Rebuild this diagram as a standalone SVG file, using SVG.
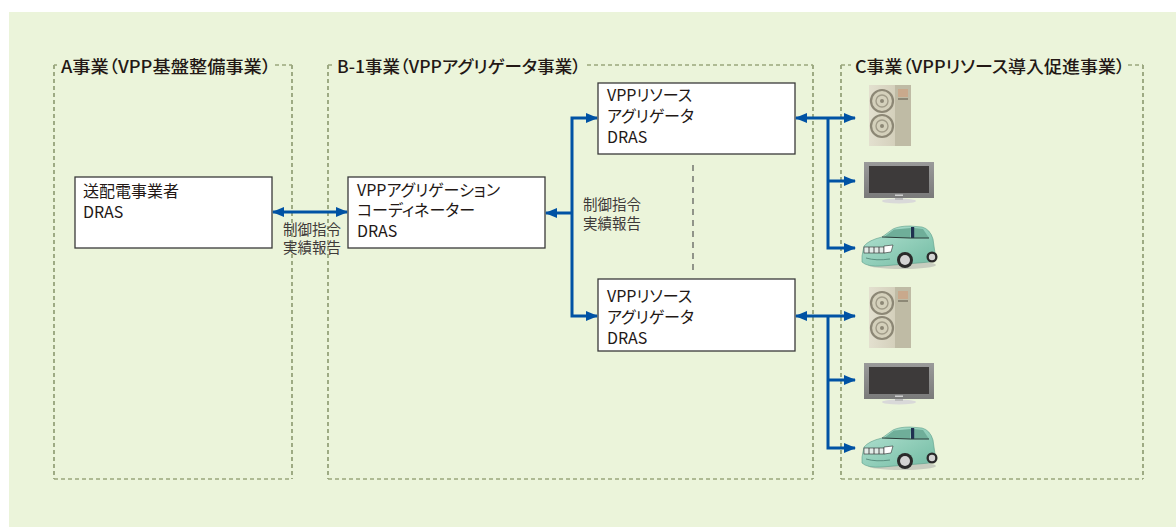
<svg xmlns="http://www.w3.org/2000/svg" width="1176" height="527" viewBox="0 0 1176 527">
  <style>
    .title { font-family: "Noto Sans CJK JP", "Liberation Sans", sans-serif; font-size: 17px; font-weight: 500; fill: #231815; font-feature-settings: "palt"; }
    .label { font-family: "Noto Sans CJK JP", "Liberation Sans", sans-serif; font-size: 16px; fill: #231815; font-feature-settings: "palt"; }
    .small { font-family: "Noto Sans CJK JP", "Liberation Sans", sans-serif; font-size: 14.5px; fill: #3e3a39; }
    .box { fill: #ffffff; stroke: #3a3a3a; stroke-width: 1.3; }
    .zone-v { fill: none; stroke: #6b7a4b; stroke-width: 1.2; stroke-dasharray: 4 3; }
    .zone-h { fill: none; stroke: #9aa77c; stroke-width: 1.5; stroke-dasharray: 4 3; }
    .link { fill: none; stroke: #0052a4; stroke-width: 3; stroke-linejoin: miter; }
    .both { marker-start: url(#head); marker-end: url(#head); }
    .one { marker-end: url(#head); }
  </style>
  <defs>
    <marker id="head" viewBox="0 0 12 10" markerWidth="12" markerHeight="10" markerUnits="userSpaceOnUse" refX="11" refY="5" orient="auto-start-reverse">
      <path d="M0,0 L12,5 L0,10 Z" fill="#0052a4"/>
    </marker>
    <linearGradient id="acBody" x1="0" y1="0" x2="1" y2="0">
      <stop offset="0" stop-color="#e3e0cf"/>
      <stop offset="1" stop-color="#cbc6b0"/>
    </linearGradient>
    <linearGradient id="tvFrame" x1="0" y1="0" x2="0" y2="1">
      <stop offset="0" stop-color="#9a9a9a"/>
      <stop offset="1" stop-color="#7a7a7a"/>
    </linearGradient>
    <linearGradient id="carBody" x1="0" y1="0" x2="1" y2="1">
      <stop offset="0" stop-color="#b4e3d2"/>
      <stop offset="1" stop-color="#72bba3"/>
    </linearGradient>
    <!-- outdoor air-conditioner unit -->
    <symbol id="ac-unit" overflow="visible">
      <rect x="0" y="0" width="42" height="61" fill="url(#acBody)"/>
      <rect x="26" y="0" width="16" height="61" fill="#bfbba5"/>
      <rect x="29" y="4" width="10" height="8" fill="#c9a98c"/>
      <rect x="29" y="13" width="10" height="2" fill="#8d8876"/>
      <circle cx="13" cy="16" r="11" fill="#d4d0bb" stroke="#8c8775" stroke-width="2.2"/>
      <circle cx="13" cy="16" r="6" fill="none" stroke="#a19c89" stroke-width="1.4"/>
      <circle cx="13" cy="16" r="2" fill="#8c8775"/>
      <circle cx="13" cy="41" r="11" fill="#d4d0bb" stroke="#8c8775" stroke-width="2.2"/>
      <circle cx="13" cy="41" r="6" fill="none" stroke="#a19c89" stroke-width="1.4"/>
      <circle cx="13" cy="41" r="2" fill="#8c8775"/>
    </symbol>
    <!-- flat-panel television -->
    <symbol id="tv" overflow="visible">
      <ellipse cx="35" cy="39" rx="17" ry="2.6" fill="#d9d9d9"/>
      <rect x="31" y="35" width="8" height="3" fill="#bdbdbd"/>
      <rect x="0" y="0" width="70" height="36" fill="url(#tvFrame)"/>
      <rect x="5" y="4" width="60" height="27" fill="#3d3a3a"/>
      <rect x="31" y="32.5" width="8" height="1.5" fill="#cfcfcf"/>
    </symbol>
    <!-- electric vehicle -->
    <symbol id="car" overflow="visible">
      <ellipse cx="42" cy="40" rx="34" ry="4" fill="#b9bcb3" opacity="0.7"/>
      <path d="M2,31 L4,21 Q9,15 22,12 L33,4 Q39,1 50,1 L62,2 Q70,4 73,14 L75,28 Q75,35 70,37 L22,41 Q7,42 2,37 Z" fill="url(#carBody)" stroke="#5d9e89" stroke-width="0.6"/>
      <path d="M24,12 L34,4.5 L51,3 L50,13 Z" fill="#6fae99"/>
      <path d="M54,3 L63,4 L69,13 L54,13 Z" fill="#6fae99"/>
      <rect x="51" y="2" width="3.2" height="11" fill="#1f3050"/>
      <path d="M22,12 L50,13 L69,13" fill="none" stroke="#2b3d3a" stroke-width="1"/>
      <rect x="4" y="22" width="20" height="6" fill="#e3ece8" stroke="#2a2a2a" stroke-width="0.6"/>
      <path d="M9,22 V28 M14,22 V28 M19,22 V28" stroke="#2a2a2a" stroke-width="0.8"/>
      <path d="M24,21 L33,20 L31,27 L24,28 Z" fill="#ffffff" stroke="#2a2a2a" stroke-width="0.6"/>
      <path d="M6,33 Q16,36 30,34" fill="none" stroke="#4a7f70" stroke-width="0.8"/>
      <circle cx="45" cy="35" r="8" fill="#2a2a2a"/>
      <circle cx="45" cy="35" r="5" fill="#d3d3d3"/>
      <circle cx="72" cy="32" r="5.5" fill="#2a2a2a"/>
      <circle cx="72" cy="32" r="3.2" fill="#d3d3d3"/>
    </symbol>
  </defs>

  <!-- background panel -->
  <rect x="9" y="12" width="1167" height="515" fill="#ebf4da"/>

  <!-- project zones -->
  <g id="zone-a">
    <path class="zone-v" d="M54,65 V479 M292,65 V479"/>
    <path class="zone-h" d="M54,65 H57 M275,65 H292 M54,479 H292"/>
    <text class="title" x="61" y="73" textLength="210" lengthAdjust="spacingAndGlyphs">A事業（VPP基盤整備事業）</text>
  </g>
  <g id="zone-b">
    <path class="zone-v" d="M328,65 V479 M813,65 V479"/>
    <path class="zone-h" d="M328,65 H333 M587,65 H813 M328,479 H813"/>
    <text class="title" x="337" y="73" textLength="244" lengthAdjust="spacingAndGlyphs">B-1事業（VPPアグリゲータ事業）</text>
  </g>
  <g id="zone-c">
    <path class="zone-v" d="M841,65 V479 M1143,65 V479"/>
    <path class="zone-h" d="M841,65 H851 M1128,65 H1143 M841,479 H1143"/>
    <text class="title" x="855" y="73" textLength="270" lengthAdjust="spacingAndGlyphs">C事業（VPPリソース導入促進事業）</text>
  </g>

  <!-- dashed separator between the two resource aggregators -->
  <path d="M693,165 V270" fill="none" stroke="#555555" stroke-width="1.2" stroke-dasharray="6 5"/>

  <!-- nodes -->
  <g id="node-tso">
    <rect class="box" x="75" y="177" width="197" height="71"/>
    <text class="label" x="83" y="197">送配電事業者</text>
    <text class="label" x="83" y="218">DRAS</text>
  </g>
  <g id="node-coordinator">
    <rect class="box" x="348" y="177" width="197" height="71"/>
    <text class="label" x="357" y="196">VPPアグリゲーション</text>
    <text class="label" x="357" y="216">コーディネーター</text>
    <text class="label" x="357" y="237">DRAS</text>
  </g>
  <g id="node-ra-1">
    <rect class="box" x="598" y="83" width="197" height="71"/>
    <text class="label" x="607" y="101">VPPリソース</text>
    <text class="label" x="607" y="122">アグリゲータ</text>
    <text class="label" x="607" y="143">DRAS</text>
  </g>
  <g id="node-ra-2">
    <rect class="box" x="598" y="279" width="197" height="72"/>
    <text class="label" x="607" y="302">VPPリソース</text>
    <text class="label" x="607" y="323">アグリゲータ</text>
    <text class="label" x="607" y="344">DRAS</text>
  </g>

  <!-- resources -->
  <g id="res-ac-1"><use href="#ac-unit" x="869" y="85"/></g>
  <g id="res-tv-1"><use href="#tv" x="864" y="162"/></g>
  <g id="res-ev-1"><use href="#car" x="860" y="225"/></g>
  <g id="res-ac-2"><use href="#ac-unit" x="869" y="287"/></g>
  <g id="res-tv-2"><use href="#tv" x="864" y="363"/></g>
  <g id="res-ev-2"><use href="#car" x="860" y="426"/></g>

  <!-- connectors -->
  <g id="connectors">
    <path class="link both" d="M273,212 H347"/>
    <path class="link one" d="M572,213 H546"/>
    <path class="link both" d="M597,118 H572 V316 H597"/>
    <path class="link both" d="M796,118 H855"/>
    <path class="link one" d="M828,118 V248 H855"/>
    <path class="link one" d="M828,181 H855"/>
    <path class="link both" d="M796,316 H855"/>
    <path class="link one" d="M828,316 V448 H855"/>
    <path class="link one" d="M828,380 H855"/>
    <text class="small" x="312" y="235" text-anchor="middle">制御指令</text>
    <text class="small" x="312" y="253" text-anchor="middle">実績報告</text>
    <text class="small" x="583" y="210">制御指令</text>
    <text class="small" x="583" y="229">実績報告</text>
  </g>
</svg>
